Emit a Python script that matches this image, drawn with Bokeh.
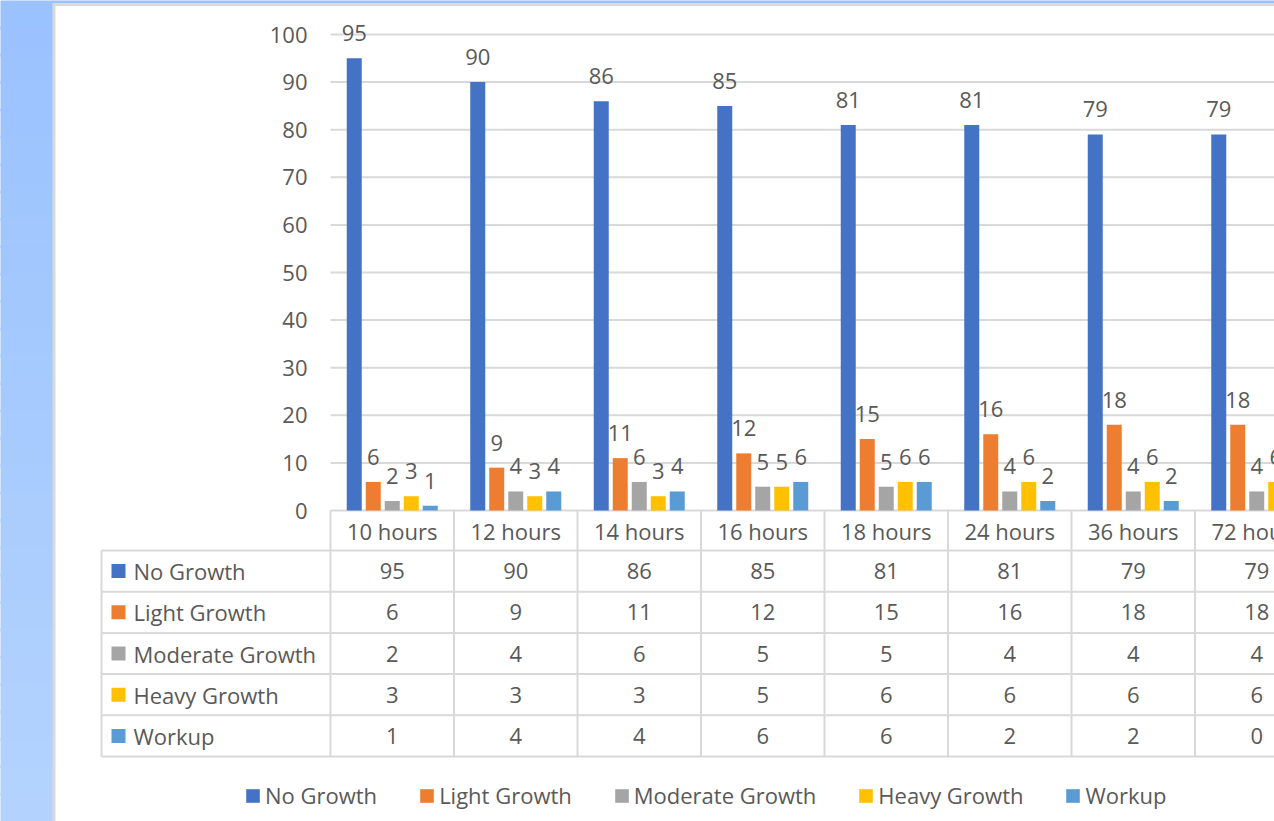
from bokeh.plotting import figure
from bokeh.models import Range1d, LinearAxis, FixedTicker, Legend, LegendItem
from bokeh.core.properties import value
from bokeh.embed import file_html
from bokeh.resources import INLINE
import numpy as np

# ---------------- data ----------------
categories = ["10 hours", "12 hours", "14 hours", "16 hours", "18 hours",
              "24 hours", "36 hours", "72 hours"]
series_names = ["No Growth", "Light Growth", "Moderate Growth", "Heavy Growth", "Workup"]
no_growth = [95, 90, 86, 85, 81, 81, 79, 79]
light_growth = [6, 9, 11, 12, 15, 16, 18, 18]
moderate_growth = [2, 4, 6, 5, 5, 4, 4, 4]
heavy_growth = [3, 3, 3, 5, 6, 6, 6, 6]
workup = [1, 4, 4, 6, 6, 2, 2, 0]
y_ticks = [0, 10, 20, 30, 40, 50, 60, 70, 80, 90, 100]

series = [no_growth, light_growth, moderate_growth, heavy_growth, workup]
colors = ["#4472C4", "#ED7D31", "#A5A5A5", "#FFC000", "#5B9BD5"]

# ---------------- layout constants ----------------
W, H = 1274, 821
PX0 = 330.0      # pixel x where category axis starts
CWPX = 123.5     # category width in px
PY0 = 510.0      # pixel y of value 0
UPX = 4.76       # px per value unit
FONT = "Open Sans"
FS = "22px"
TXT = "#595959"
LINE = "#D9D9D9"


def ux(px):
    return (px - PX0) / CWPX


def vy(py):
    return (PY0 - py) / UPX


p = figure(width=W, height=H,
           x_range=Range1d(ux(0), ux(W)), y_range=Range1d(vy(H), vy(0)),
           x_axis_type=None, y_axis_type=None,
           toolbar_location=None, output_backend="svg", min_border=0)
p.outline_line_color = None
p.background_fill_color = "white"
p.border_fill_color = "white"

# ---------------- page decoration (blue strip + frame edge) ----------------
top_c = np.array([0x9A, 0xC2, 0xFE])
bot_c = np.array([0xB4, 0xD4, 0xFF])
NB = 30
edges = np.linspace(0, H, NB + 1)
band_cols = []
for i in range(NB):
    t = (i + 0.5) / NB
    c = (top_c * (1 - t) + bot_c * t).astype(int)
    band_cols.append("#%02x%02x%02x" % tuple(c))
p.quad(left=ux(-2), right=ux(52), top=[vy(e - 1) for e in edges[:-1]],
       bottom=[vy(e + 1) for e in edges[1:]], fill_color=band_cols,
       line_color=band_cols, line_width=1)
p.quad(left=ux(52), right=ux(W + 2), top=vy(-2), bottom=vy(3),
       fill_color="#9AC2FE", line_color=None)
p.quad(left=ux(52), right=ux(55), top=vy(3), bottom=vy(H + 2),
       fill_color=LINE, line_color=None)
p.quad(left=ux(52), right=ux(W + 2), top=vy(3), bottom=vy(5.5),
       fill_color=LINE, line_color=None)

# ---------------- gridlines ----------------
n = len(categories)
p.segment(x0=0, x1=ux(W), y0=y_ticks, y1=y_ticks, line_color=LINE, line_width=2)

# ---------------- y axis (inside frame at x = 0) ----------------
yaxis = LinearAxis(fixed_location=0, ticker=FixedTicker(ticks=y_ticks))
yaxis.axis_line_color = None
yaxis.major_tick_line_color = None
yaxis.minor_tick_line_color = None
yaxis.major_tick_out = 0
yaxis.major_tick_in = 0
yaxis.major_label_standoff = 23
yaxis.major_label_text_font = FONT
yaxis.major_label_text_font_size = FS
yaxis.major_label_text_color = TXT
p.add_layout(yaxis, "left")

# ---------------- bars + data labels ----------------
pitch = 19.0 / CWPX
bw = 15.0 / CWPX
idx = np.arange(n) + 0.5
bar_renderers = []
for k, vals in enumerate(series):
    xs = idx + (k - 2) * pitch
    r = p.vbar(x=xs, top=vals, bottom=0, width=bw,
               fill_color=colors[k], line_color=None)
    bar_renderers.append(r)
    p.text(x=xs, y=vals, text=[str(v) for v in vals],
           text_align="center", text_baseline="alphabetic", y_offset=-25,
           text_font=value(FONT), text_font_size=FS, text_color=TXT)

# ---------------- data table ----------------
ROW0 = 550.0
RH = 41.2
row_edges = [ROW0 + RH * k for k in range(len(series) + 1)]
row_centers = [ROW0 + RH * (k + 0.5) for k in range(len(series))]
TBL_L = 101.0

# horizontal lines
p.segment(x0=ux(TBL_L), x1=ux(W), y0=[vy(e) for e in row_edges],
          y1=[vy(e) for e in row_edges], line_color=LINE, line_width=2)
# vertical lines
p.segment(x0=ux(TBL_L), x1=ux(TBL_L), y0=vy(row_edges[0]), y1=vy(row_edges[-1]),
          line_color=LINE, line_width=2)
col_edges = list(range(n + 1))
p.segment(x0=col_edges, x1=col_edges, y0=0, y1=vy(row_edges[-1]),
          line_color=LINE, line_width=2)

# header (category labels)
p.text(x=idx, y=vy((PY0 + ROW0) / 2), text=categories,
       text_align="center", text_baseline="middle",
       text_font=value(FONT), text_font_size=FS, text_color=TXT)

# row keys + names
p.scatter(x=ux(118), y=[vy(c) for c in row_centers], marker="square", size=14,
          fill_color=colors, line_color=None)
p.text(x=ux(133), y=[vy(c) for c in row_centers], text=series_names,
       text_align="left", text_baseline="middle",
       text_font=value(FONT), text_font_size=FS, text_color=TXT)

# values
for k, vals in enumerate(series):
    p.text(x=idx, y=vy(row_centers[k]), text=[str(v) for v in vals],
           text_align="center", text_baseline="middle",
           text_font=value(FONT), text_font_size=FS, text_color=TXT)

# ---------------- legend ----------------
legend = Legend(items=[LegendItem(label=nm, renderers=[r])
                       for nm, r in zip(series_names, bar_renderers)],
                orientation="horizontal", location=(244, 11),
                glyph_width=17, glyph_height=17, label_standoff=4, spacing=41,
                padding=0, margin=0, border_line_color=None,
                background_fill_alpha=0,
                label_text_font=FONT, label_text_font_size=FS,
                label_text_color=TXT)
p.add_layout(legend)

open("out.html", "w").write(file_html(p, INLINE))
